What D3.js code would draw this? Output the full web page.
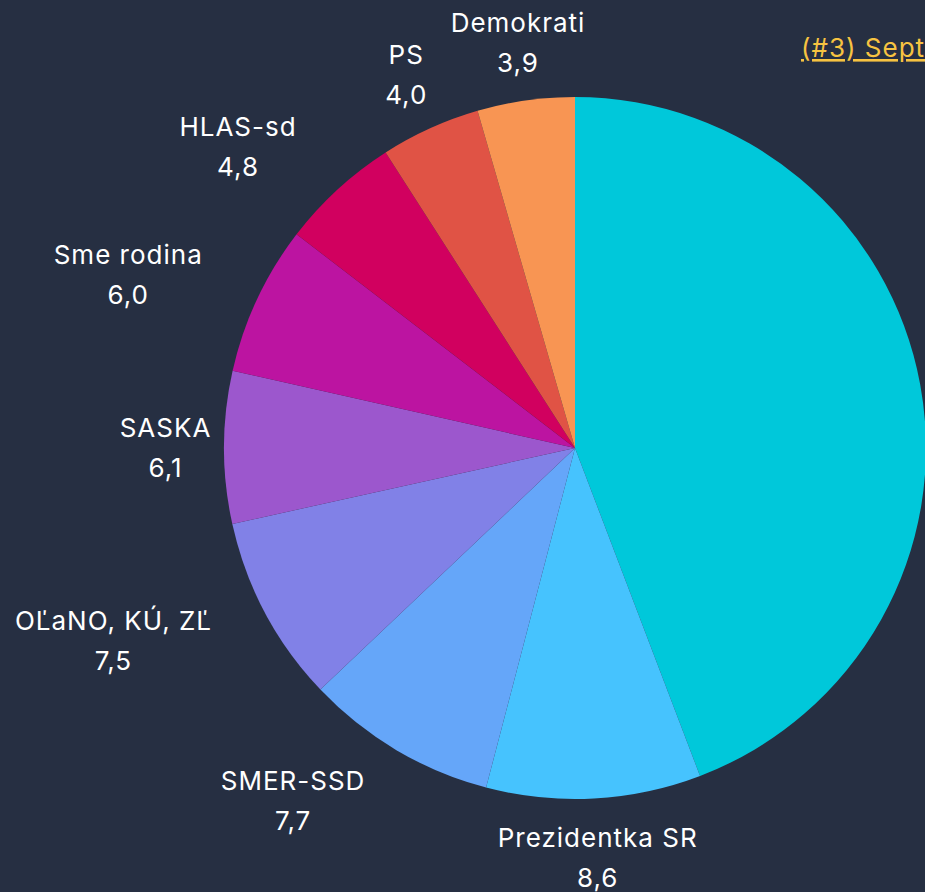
<!DOCTYPE html>
<html>
<head>
<meta charset="utf-8">
<script src="https://cdn.jsdelivr.net/npm/d3@7"></script>
<style>
  html, body { margin: 0; padding: 0; background: #262f42; overflow: hidden; }
  svg { display: block; }
  text { font-family: Inter, "Noto Sans", sans-serif; fill: #ffffff; letter-spacing: 1px; }
</style>
</head>
<body>
<svg id="chart"></svg>
<script>
// slices in drawing order, clockwise from 12 o'clock
const parties = ["", "Prezidentka SR", "SMER-SSD", "OĽaNO, KÚ, ZĽ", "SASKA", "Sme rodina", "HLAS-sd", "PS", "Demokrati"];
const values = [38.5, 8.6, 7.7, 7.5, 6.1, 6.0, 4.8, 4.0, 3.9];
const colors = ["#00c8da", "#46c3fe", "#65a6f9", "#8181e7", "#9c57cd", "#bc14a1", "#d1005f", "#e05345", "#f89553"];
const title = "(#3) September";

const width = 925;
const height = 892;
const cx = 575;
const cy = 448;
const radius = 351;
const labelRadius = 410;
const labelPad = 8;
const fontSize = 26;
const lineGap = 40;

const svg = d3.select("#chart")
    .attr("width", width)
    .attr("height", height);

const rows = parties.map((p, i) => ({name: p, value: values[i], color: colors[i]}));

const pie = d3.pie()
    .sort(null)
    .value(d => d.value);

const arc = d3.arc()
    .innerRadius(0)
    .outerRadius(radius);

const arcs = pie(rows);

const g = svg.append("g")
    .attr("transform", `translate(${[cx, cy]})`);

g.selectAll("path")
    .data(arcs)
    .join("path")
    .attr("d", arc)
    .style("fill", d => d.data.color);

const fmt = v => d3.format(".1f")(v).replace(".", ",");

// labels outside the pie, pushed to the side when they would touch it
const labels = g.selectAll("g.label")
    .data(arcs.filter(d => d.data.name !== ""))
    .join("g")
    .attr("class", "label");

labels.each(function(d) {
    const a = (d.startAngle + d.endAngle) / 2;
    const px = labelRadius * Math.sin(a);
    const py = -labelRadius * Math.cos(a);

    const t = d3.select(this).append("text")
        .attr("text-anchor", "middle")
        .attr("font-size", fontSize);
    t.append("tspan").attr("x", 0.5).attr("y", -10.5).text(d.data.name);
    t.append("tspan").attr("x", 0.5).attr("y", -10.5 + lineGap).text(fmt(d.data.value));

    const w = t.node().getBBox().width - 1;
    const top = py - 29.5;
    const bottom = py + 29.5;
    // nearest point of the centred box to the pie centre
    const nx = Math.max(px - w / 2, Math.min(0, px + w / 2));
    const ny = Math.max(top, Math.min(0, bottom));
    let x = px;
    if (Math.hypot(nx, ny) < radius + labelPad) {
        x = Math.sin(a) < 0 ? px - w / 2 - 2 : px + w / 2 + 2;
    }
    d3.select(this).attr("transform", `translate(${[x, py]})`);
});

svg.append("text")
    .attr("x", 801)
    .attr("y", 57)
    .attr("font-size", fontSize)
    .attr("text-decoration", "underline")
    .style("fill", "#f7c341")
    .text(title);
</script>
</body>
</html>
